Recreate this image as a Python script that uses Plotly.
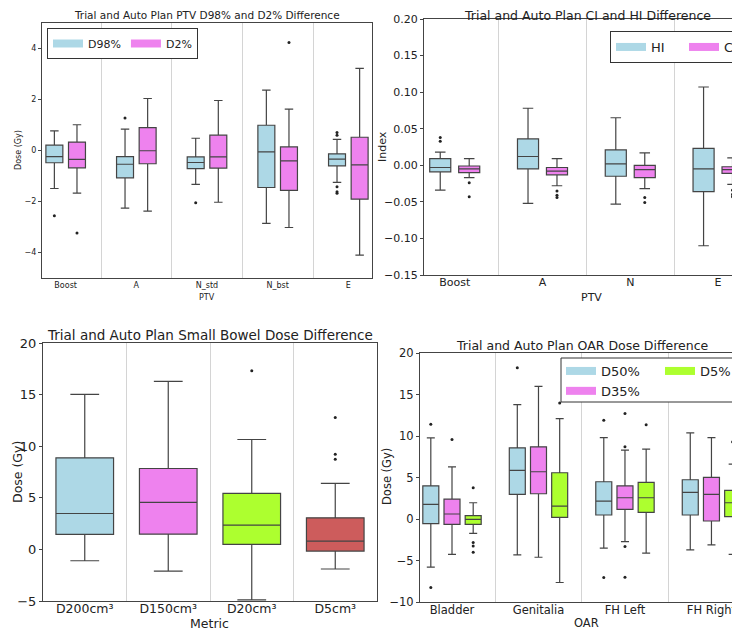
import numpy as np
import plotly.graph_objects as go

# The page body adds an 8px margin, so the figure is sized to fill the rest.
OFF = 8
W, H = 740 - OFF, 630 - OFF
FONT = "DejaVu Sans"
EDGE = "#444444"
TXT = "#222222"

C_BLUE = "#ADD8E6"
C_VIOLET = "#EE82EE"
C_GREEN = "#ADFF2F"
C_RED = "#CD5C5C"

# ---------------- Panel 1: PTV D98% / D2% ----------------
p1_categories = ["Boost", "A", "N_std", "N_bst", "E"]
p1_d98_lower = [-1.49, -2.26, -1.33, -2.86, -1.25]
p1_d98_q1 = [-0.48, -1.07, -0.71, -1.45, -0.60]
p1_d98_median = [-0.24, -0.54, -0.47, -0.05, -0.34]
p1_d98_q3 = [0.21, -0.24, -0.25, 0.99, -0.13]
p1_d98_upper = [0.77, 0.84, 0.48, 2.37, 0.44]
p1_d98_outliers = [[-2.56], [1.27], [-2.05], [], [0.71, 0.60, -1.42, -1.62, -1.68]]

p1_d2_lower = [-1.67, -2.38, -2.03, -3.02, -4.10]
p1_d2_q1 = [-0.68, -0.52, -0.69, -1.56, -1.91]
p1_d2_median = [-0.35, -0.01, -0.25, -0.41, -0.56]
p1_d2_q3 = [0.33, 0.90, 0.60, 0.14, 0.52]
p1_d2_upper = [1.01, 2.04, 1.96, 1.62, 3.22]
p1_d2_outliers = [[-3.24], [], [], [4.24], []]

# ---------------- Panel 2: CI / HI ----------------
p2_categories = ["Boost", "A", "N", "E"]
p2_hi_lower = [-0.034, -0.052, -0.053, -0.110]
p2_hi_q1 = [-0.009, -0.005, -0.015, -0.036]
p2_hi_median = [-0.003, 0.012, 0.002, -0.005]
p2_hi_q3 = [0.009, 0.036, 0.021, 0.023]
p2_hi_upper = [0.018, 0.078, 0.065, 0.107]
p2_hi_outliers = [[0.038, 0.033], [], [], []]

p2_ci_lower = [-0.017, -0.028, -0.032, -0.026]
p2_ci_q1 = [-0.010, -0.013, -0.017, -0.011]
p2_ci_median = [-0.005, -0.008, -0.006, -0.006]
p2_ci_q3 = [-0.001, -0.003, 0.000, -0.002]
p2_ci_upper = [0.009, 0.009, 0.017, 0.010]
p2_ci_outliers = [[-0.024, -0.043], [-0.035, -0.041, -0.044],
                  [-0.044, -0.051], [-0.034, -0.040, -0.043]]

# ---------------- Panel 3: Small bowel ----------------
p3_categories = ["D200cm³", "D150cm³", "D20cm³", "D5cm³"]
p3_lower = [-1.10, -2.10, -4.90, -1.90]
p3_q1 = [1.45, 1.48, 0.48, -0.16]
p3_median = [3.48, 4.55, 2.35, 0.81]
p3_q3 = [8.87, 7.84, 5.42, 3.06]
p3_upper = [15.03, 16.29, 10.65, 6.39]
p3_outliers = [[], [], [17.32], [12.77, 9.23, 8.74]]
p3_colors = [C_BLUE, C_VIOLET, C_GREEN, C_RED]

# ---------------- Panel 4: OAR ----------------
p4_categories = ["Bladder", "Genitalia", "FH Left", "FH Right"]
p4_d50_lower = [-5.81, -4.33, -3.52, -3.72]
p4_d50_q1 = [-0.56, 2.96, 0.48, 0.48]
p4_d50_median = [1.76, 5.85, 2.16, 3.20]
p4_d50_q3 = [4.00, 8.57, 4.49, 4.73]
p4_d50_upper = [9.77, 13.78, 9.81, 10.37]
p4_d50_outliers = [[11.41, -8.25], [18.22], [11.89, -7.05], []]

p4_d35_lower = [-4.25, -4.61, -2.72, -3.12]
p4_d35_q1 = [-0.64, 3.04, 1.16, -0.24]
p4_d35_median = [0.60, 5.69, 2.56, 2.96]
p4_d35_q3 = [2.40, 8.69, 4.00, 5.01]
p4_d35_upper = [6.29, 15.98, 8.29, 9.81]
p4_d35_outliers = [[9.57], [], [12.70, 8.69, -3.32, -7.01], []]

p4_d5_lower = [-1.72, -7.65, -4.12, -4.25]
p4_d5_q1 = [-0.64, 0.20, 0.80, 0.28]
p4_d5_median = [-0.04, 1.56, 2.56, 1.96]
p4_d5_q3 = [0.40, 5.57, 4.41, 3.44]
p4_d5_upper = [1.96, 12.09, 8.41, 6.61]
p4_d5_outliers = [[3.76, -2.84, -3.24, -4.00], [13.98], [11.37], [9.29]]

fig = go.Figure()


def add_series(ax, positions, q1, med, q3, lo, hi, outl, color, width):
    xa = "x" if ax == 1 else f"x{ax}"
    ya = "y" if ax == 1 else f"y{ax}"
    fig.add_trace(go.Box(
        x=list(positions), q1=q1, median=med, q3=q3,
        lowerfence=lo, upperfence=hi, orientation="v",
        fillcolor=color, line=dict(color=EDGE, width=1.2),
        width=width, whiskerwidth=0.5, boxpoints=False,
        showlegend=False, xaxis=xa, yaxis=ya, hoverinfo="skip"))
    ox, oy = [], []
    for p, vals in zip(positions, outl):
        for v in vals:
            ox.append(p)
            oy.append(v)
    if ox:
        fig.add_trace(go.Scatter(
            x=ox, y=oy, mode="markers",
            marker=dict(color="#222222", size=3),
            showlegend=False, xaxis=xa, yaxis=ya, hoverinfo="skip"))


def add_legend_patch(ax, name, color, legend):
    xa = "x" if ax == 1 else f"x{ax}"
    ya = "y" if ax == 1 else f"y{ax}"
    fig.add_trace(go.Scatter(
        x=[None], y=[None], mode="lines", name=name,
        line=dict(color=color, width=8),
        legend=legend, xaxis=xa, yaxis=ya))


# Panel 1
idx1 = np.arange(len(p1_categories))
add_series(1, idx1 - 0.16, p1_d98_q1, p1_d98_median, p1_d98_q3, p1_d98_lower,
           p1_d98_upper, p1_d98_outliers, C_BLUE, 0.24)
add_series(1, idx1 + 0.16, p1_d2_q1, p1_d2_median, p1_d2_q3, p1_d2_lower,
           p1_d2_upper, p1_d2_outliers, C_VIOLET, 0.24)
add_legend_patch(1, "D98%", C_BLUE, "legend")
add_legend_patch(1, "D2%", C_VIOLET, "legend")

# Panel 2
idx2 = np.arange(len(p2_categories))
add_series(2, idx2 - 0.165, p2_hi_q1, p2_hi_median, p2_hi_q3, p2_hi_lower,
           p2_hi_upper, p2_hi_outliers, C_BLUE, 0.24)
add_series(2, idx2 + 0.165, p2_ci_q1, p2_ci_median, p2_ci_q3, p2_ci_lower,
           p2_ci_upper, p2_ci_outliers, C_VIOLET, 0.24)
add_legend_patch(2, "HI", C_BLUE, "legend2")
add_legend_patch(2, "CI", C_VIOLET, "legend2")

# Panel 3
for i, cat in enumerate(p3_categories):
    add_series(3, [i], [p3_q1[i]], [p3_median[i]], [p3_q3[i]], [p3_lower[i]],
               [p3_upper[i]], [p3_outliers[i]], p3_colors[i], 0.69)

# Panel 4
idx4 = np.arange(len(p4_categories))
add_series(4, idx4 - 0.245, p4_d50_q1, p4_d50_median, p4_d50_q3, p4_d50_lower,
           p4_d50_upper, p4_d50_outliers, C_BLUE, 0.185)
add_series(4, idx4, p4_d35_q1, p4_d35_median, p4_d35_q3, p4_d35_lower,
           p4_d35_upper, p4_d35_outliers, C_VIOLET, 0.185)
add_series(4, idx4 + 0.245, p4_d5_q1, p4_d5_median, p4_d5_q3, p4_d5_lower,
           p4_d5_upper, p4_d5_outliers, C_GREEN, 0.185)
add_legend_patch(4, "D50%", C_BLUE, "legend3")
add_legend_patch(4, "D35%", C_VIOLET, "legend3")
add_legend_patch(4, "D5%", C_GREEN, "legend4")


def px_x(p):
    return (p - OFF) / W


def px_y(p):
    return 1 - (p - OFF) / H


def xaxis_cfg(dom, rng, cats, fs, anchor, lab_off):
    return dict(
        domain=[px_x(dom[0]), min(1.0, px_x(dom[1]))], range=rng, anchor=anchor,
        automargin=False,
        tickmode="array", tickvals=list(range(len(cats))), ticktext=cats,
        tickfont=dict(size=fs, color=TXT, family=FONT),
        ticks="", ticklabelstandoff=lab_off,
        showgrid=False, zeroline=False,
        showline=True, mirror=True, linecolor=EDGE, linewidth=1,
        minor=dict(tickmode="linear", tick0=0.5, dtick=1, showgrid=True,
                   gridcolor="#d4d4d4", gridwidth=1, ticks=""),
        fixedrange=True)


def yaxis_cfg(dom, rng, dtick, fs, anchor, fmt=None):
    d = dict(
        domain=[px_y(dom[1]), px_y(dom[0])], range=rng, anchor=anchor,
        automargin=False,
        tickmode="linear", tick0=0, dtick=dtick,
        tickfont=dict(size=fs, color=TXT, family=FONT),
        ticks="outside", ticklen=3, tickcolor=EDGE,
        showgrid=False, zeroline=False,
        showline=True, mirror=True, linecolor=EDGE, linewidth=1,
        fixedrange=True)
    if fmt:
        d["tickformat"] = fmt
    return d


def text_ann(text, x, y, size, angle=0):
    return dict(text=text, x=px_x(x), y=px_y(y), xref="paper", yref="paper",
                xanchor="center", yanchor="middle", textangle=angle,
                showarrow=False, font=dict(size=size, family=FONT, color=TXT))


layout = dict(
    width=W, height=H,
    margin=dict(l=0, r=0, t=0, b=0, autoexpand=False),
    paper_bgcolor="white", plot_bgcolor="white",
    font=dict(family=FONT, color=TXT),
    showlegend=True,
    xaxis=xaxis_cfg((42, 372), [-0.335, 4.335], p1_categories, 8, "y", -1),
    yaxis=yaxis_cfg((23, 278), [-5, 5], 2, 8, "x"),
    xaxis2=xaxis_cfg((424, 740), [-0.35, 3.25], p2_categories, 11, "y2", -3),
    yaxis2=yaxis_cfg((19, 275), [-0.15, 0.20], 0.05, 11, "x2", ".2f"),
    xaxis3=xaxis_cfg((43, 377), [-0.5, 3.5], p3_categories, 12.5, "y3", -4),
    yaxis3=yaxis_cfg((343, 601), [-5, 20], 5, 13, "x3"),
    xaxis4=xaxis_cfg((420, 740), [-0.37, 3.33], p4_categories, 11.5, "y4", -3),
    yaxis4=yaxis_cfg((353, 602), [-10, 20], 5, 11.5, "x4"),
    legend=dict(x=px_x(47), y=px_y(28), xanchor="left", yanchor="top",
                orientation="h", bordercolor="#333333", borderwidth=1,
                bgcolor="white", font=dict(size=11, family=FONT, color=TXT)),
    legend2=dict(x=px_x(610), y=px_y(31), xanchor="left", yanchor="top",
                 orientation="h", bordercolor="#333333", borderwidth=1,
                 entrywidth=28,
                 bgcolor="white", font=dict(size=13, family=FONT, color=TXT)),
    legend3=dict(x=px_x(561), y=px_y(356), xanchor="left", yanchor="top",
                 orientation="v", borderwidth=0, bgcolor="rgba(0,0,0,0)",
                 font=dict(size=13, family=FONT, color=TXT)),
    legend4=dict(x=px_x(660), y=px_y(356), xanchor="left", yanchor="top",
                 orientation="v", borderwidth=0, bgcolor="rgba(0,0,0,0)",
                 font=dict(size=13, family=FONT, color=TXT)),
    shapes=[dict(type="rect", xref="paper", yref="paper",
                 x0=px_x(561), x1=px_x(737), y0=px_y(402), y1=px_y(358),
                 line=dict(color="#333333", width=1), fillcolor="white",
                 layer="above")],
    annotations=[
        # panel titles
        text_ann("Trial and Auto Plan PTV D98% and D2% Difference", 207, 15, 10.5),
        text_ann("Trial and Auto Plan CI and HI Difference", 587, 16, 12.5),
        text_ann("Trial and Auto Plan Small Bowel Dose Difference", 210, 335, 13.5),
        text_ann("Trial and Auto Plan OAR Dose Difference", 582, 345, 12.5),
        # axis titles
        text_ann("PTV", 207, 297, 8),
        text_ann("Dose (Gy)", 19, 150, 8, -90),
        text_ann("PTV", 591, 297, 11),
        text_ann("Index", 382, 147, 11, -90),
        text_ann("Metric", 210, 623, 12.5),
        text_ann("Dose (Gy)", 17, 472, 12.5, -90),
        text_ann("OAR", 586, 623, 11.5),
        text_ann("Dose (Gy)", 387, 477, 11.5, -90),
    ],
)
fig.update_layout(**layout)
fig.write_html("out.html")
